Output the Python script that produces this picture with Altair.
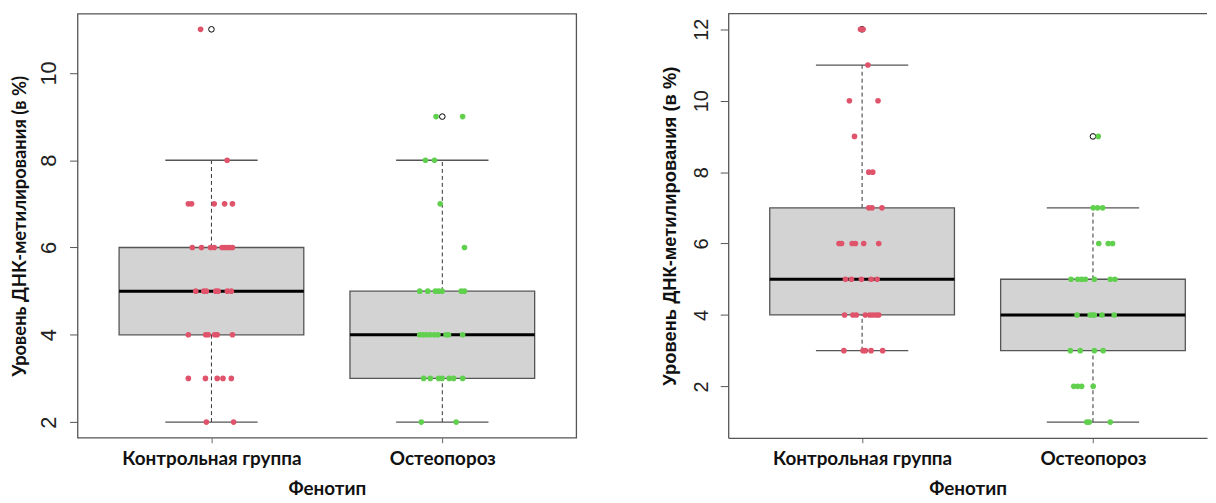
import altair as alt
import numpy as np
import pandas as pd

CATEGORIES = ["Контрольная группа", "Остеопороз"]
Y_TITLE = "Уровень ДНК-метилирования (в %)"
X_TITLE = "Фенотип"
COLORS = ["#DF536B", "#61D04F"]

# Left panel: values and horizontal jitter (in category units)
L_CTRL_Y = [11, 8, 7, 7, 7, 7, 7, 6, 6, 6, 6, 6, 6, 6, 6, 6, 5, 5, 5, 5, 5, 5, 5,
            4, 4, 4, 4, 4, 4, 3, 3, 3, 3, 3, 2, 2]
L_CTRL_J = [-0.047, 0.068, -0.100, -0.086, 0.012, 0.057, 0.091, -0.083, -0.043, -0.004,
            0.012, 0.046, 0.057, 0.069, 0.079, 0.091, -0.068, -0.033, -0.022, 0.019,
            0.029, 0.069, 0.086, -0.100, -0.025, -0.014, 0.014, 0.025, 0.091, -0.100,
            -0.026, 0.025, 0.050, 0.086, -0.022, 0.096]
L_OST_Y = [9, 9, 8, 8, 7, 6, 5, 5, 5, 5, 5, 5, 5, 4, 4, 4, 4, 4, 4, 4, 4, 4,
           3, 3, 3, 3, 3, 3, 3, 2, 2]
L_OST_J = [-0.027, 0.088, -0.073, -0.034, -0.009, 0.096, -0.098, -0.063, -0.030, -0.016,
           -0.001, 0.082, 0.096, -0.098, -0.083, -0.069, -0.052, -0.034, -0.019, 0.016,
           0.027, 0.088, -0.081, -0.052, -0.016, -0.001, 0.030, 0.049, 0.088, -0.091, 0.060]

# Right panel
R_CTRL_Y = [12, 12, 11, 10, 10, 9, 8, 8, 7, 7, 7, 6, 6, 6, 6, 6, 6, 5, 5, 5, 5, 5,
            4, 4, 4, 4, 4, 4, 4, 4, 3, 3, 3, 3, 3]
R_CTRL_J = [-0.007, 0.004, 0.025, -0.055, 0.069, -0.033, 0.029, 0.046, 0.029, 0.043,
            0.086, -0.100, -0.089, -0.043, -0.029, 0.007, 0.072, -0.072, -0.046, -0.003,
            0.039, 0.065, -0.076, -0.040, -0.025, 0.014, 0.033, 0.046, 0.060, 0.072,
            -0.079, 0.004, 0.014, 0.039, 0.089]
R_OST_Y = [9, 7, 7, 7, 6, 6, 6, 5, 5, 5, 5, 5, 5, 5, 4, 4, 4, 4, 4, 4,
           3, 3, 3, 3, 2, 2, 2, 2, 1, 1, 1]
R_OST_J = [0.023, 0.001, 0.020, 0.042, 0.025, 0.066, 0.085, -0.095, -0.066, -0.049,
           -0.033, 0.006, 0.075, 0.095, -0.069, -0.012, -0.001, 0.006, 0.039, 0.092,
           -0.098, -0.055, 0.006, 0.044, -0.083, -0.066, -0.049, 0.001, -0.027, -0.016, 0.075]

L_TICKS = [2, 4, 6, 8, 10]
R_TICKS = [2, 4, 6, 8, 10, 12]

PANEL_H = 427
L_W = 502
R_W = 482
UNIT_PX = L_W / 2.16  # px per category unit


def fivenum(v):
    x = sorted(v)
    n = len(x)
    n4 = np.floor((n + 3) / 2) / 2
    d = [1, n4, (n + 1) / 2, n + 1 - n4, n]
    return [0.5 * (x[int(np.floor(di)) - 1] + x[int(np.ceil(di)) - 1]) for di in d]


def box_stats(v):
    mn, q1, med, q3, mx = fivenum(v)
    iqr = q3 - q1
    lo_f, hi_f = q1 - 1.5 * iqr, q3 + 1.5 * iqr
    inside = [a for a in v if lo_f <= a <= hi_f]
    outs = sorted(set(a for a in v if a < lo_f or a > hi_f))
    return q1, med, q3, min(inside), max(inside), outs


label_expr = "datum.value == 1 ? '%s' : '%s'" % (CATEGORIES[0], CATEGORIES[1])


def panel(groups, width, ticks, right_panel):
    pts, boxes, outl = [], [], []
    allv = []
    for gi, (vals, jit) in enumerate(groups):
        c = gi + 1
        allv += vals
        for v, j in zip(vals, jit):
            pts.append({"x": c + j, "y": v, "g": CATEGORIES[gi]})
        q1, med, q3, wlo, whi, outs = box_stats(vals)
        boxes.append({"c": c, "lo": c - 0.4, "hi": c + 0.4, "clo": c - 0.2, "chi": c + 0.2,
                      "q1": q1, "med": med, "q3": q3, "wlo": wlo, "whi": whi})
        for o in outs:
            outl.append({"c": c, "y": o})
    pts, boxes, outl = pd.DataFrame(pts), pd.DataFrame(boxes), pd.DataFrame(outl)
    rng = max(allv) - min(allv)
    ydom = [min(allv) - 0.04 * rng, max(allv) + 0.04 * rng]
    xdom = [0.42, 0.42 + width / UNIT_PX]

    xs = alt.Scale(domain=xdom, nice=False, zero=False)
    ys = alt.Scale(domain=ydom, nice=False, zero=False)

    x_axis = alt.Axis(values=[1, 2], labelExpr=label_expr, title=X_TITLE, grid=False,
                      tickSize=5, tickColor="#666", domain=right_panel, domainColor="#555",
                      domainWidth=1.3, labelFlush=False, labelLimit=260,
                      labelFont="Lato", labelFontWeight="bold", labelFontSize=19,
                      labelColor="#111", labelPadding=7,
                      titleFont="Lato", titleFontWeight="bold", titleFontSize=19,
                      titleColor="#111", titlePadding=11)
    y_axis = alt.Axis(values=ticks, title=Y_TITLE, grid=False, tickSize=8, tickColor="#555",
                      domain=right_panel, domainColor="#555", domainWidth=1.3,
                      labelAngle=270, labelFont="Liberation Sans",
                      labelFontSize=(20 if right_panel else 22),
                      labelColor="#222", labelPadding=9,
                      titleFont=("Liberation Sans" if right_panel else "Lato"),
                      titleFontWeight="bold", titleFontSize=18.5,
                      titleColor="#111", titlePadding=(12 if right_panel else 8))

    def X(f):
        return alt.X(f, type="quantitative", scale=xs, axis=x_axis)

    def Y(f):
        return alt.Y(f, type="quantitative", scale=ys, axis=y_axis)

    base_b = alt.Chart(boxes)
    dash_up = base_b.mark_rule(color="#333", strokeDash=[4, 3], strokeWidth=1).encode(
        x=X("c"), y=Y("q3"), y2="whi:Q")
    dash_dn = base_b.mark_rule(color="#333", strokeDash=[4, 3], strokeWidth=1).encode(
        x=X("c"), y=Y("wlo"), y2="q1:Q")
    cap_up = base_b.mark_rule(color="#555", strokeWidth=1.3).encode(
        x=X("clo"), x2="chi:Q", y=Y("whi"))
    cap_dn = base_b.mark_rule(color="#555", strokeWidth=1.3).encode(
        x=X("clo"), x2="chi:Q", y=Y("wlo"))
    box = base_b.mark_rect(fill="#D3D3D3", stroke="#555", strokeWidth=1.3).encode(
        x=X("lo"), x2="hi:Q", y=Y("q1"), y2="q3:Q")
    median = base_b.mark_rule(color="black", strokeWidth=3).encode(
        x=X("lo"), x2="hi:Q", y=Y("med"))
    outliers = alt.Chart(outl).mark_point(shape="circle", filled=False, color="black",
                                          size=32, strokeWidth=1, opacity=1).encode(
        x=X("c"), y=Y("y"))
    points = alt.Chart(pts).mark_circle(size=32, opacity=1).encode(
        x=X("x"), y=Y("y"),
        color=alt.Color("g:N", scale=alt.Scale(domain=CATEGORIES, range=COLORS), legend=None))

    layers = [dash_up, dash_dn, cap_up, cap_dn, box, median, outliers, points]
    if right_panel:
        top = alt.Chart(pd.DataFrame({"k": [0]})).mark_rule(color="#555", strokeWidth=1.3).encode(
            x=alt.value(0), x2=alt.value(width), y=alt.value(0))
        layers.append(top)
        view = alt.ViewBackground(stroke="transparent", strokeWidth=0)
    else:
        view = alt.ViewBackground(stroke="#555", strokeWidth=1.3)
    return alt.layer(*layers).properties(width=width, height=PANEL_H, view=view)


left = panel([(L_CTRL_Y, L_CTRL_J), (L_OST_Y, L_OST_J)], L_W, L_TICKS, False)
right = panel([(R_CTRL_Y, R_CTRL_J), (R_OST_Y, R_OST_J)], R_W, R_TICKS, True)

chart = alt.hconcat(left, right, spacing=84).properties(
    padding={"left": 2, "top": 3, "right": 0, "bottom": 0},
    background="white",
).configure_view(strokeWidth=0)

chart.save("out.html", embed_options={"renderer": "svg", "actions": False})
